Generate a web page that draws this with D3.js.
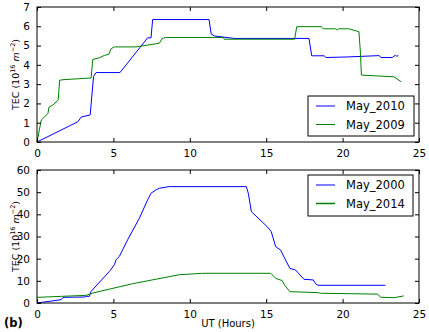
<!DOCTYPE html>
<html>
<head>
<meta charset="utf-8">
<script src="https://cdn.jsdelivr.net/npm/d3@7"></script>
<style>
  body { margin: 0; background: #fff; }
  svg { display: block; font-family: "DejaVu Sans", sans-serif; }
</style>
</head>
<body>
<div id="container"></div>
<script>
/* CONSTANTS AND GLOBALS */
const width = 429, height = 332;

/* DATA */
// panel (a)
const may2010X = [0, 2.67, 2.9, 3.48, 3.7, 3.87, 5.43, 7.24, 7.46, 7.57, 11.26, 11.4, 11.6, 12.9, 17.8, 17.98, 18.8, 18.9, 20.3, 22.4, 22.5, 23.25, 23.45, 23.55, 23.65];
const may2010Y = [0, 1.05, 1.3, 1.4, 3.4, 3.6, 3.6, 5.4, 5.4, 6.35, 6.35, 5.6, 5.5, 5.37, 5.37, 4.47, 4.47, 4.38, 4.41, 4.48, 4.38, 4.38, 4.5, 4.44, 4.5];
const may2009X = [0, 0.28, 0.5, 0.72, 0.78, 1.04, 1.3, 1.39, 1.48, 1.7, 3.54, 3.65, 4.09, 4.41, 4.7, 4.85, 5.07, 6.48, 8.0, 8.2, 8.43, 11.6, 12.2, 12.25, 16.86, 17.0, 18.6, 18.75, 19.55, 19.65, 19.75, 20.4, 21.07, 21.17, 21.23, 23.36, 23.84];
const may2009Y = [0, 1.14, 1.3, 1.49, 1.8, 1.92, 2.1, 2.19, 3.2, 3.23, 3.32, 4.28, 4.37, 4.49, 4.55, 4.84, 4.93, 4.93, 5.12, 5.37, 5.42, 5.42, 5.42, 5.33, 5.33, 5.98, 5.98, 5.87, 5.87, 5.81, 5.87, 5.87, 5.72, 4.6, 3.47, 3.38, 3.12];
// panel (b)
const may2000X = [0, 1.59, 1.7, 3.1, 3.22, 3.43, 3.54, 4.74, 5.07, 5.17, 5.39, 5.93, 6.7, 7.24, 7.46, 7.78, 8.0, 8.65, 13.7, 13.83, 14.03, 14.2, 15.07, 15.33, 15.62, 15.94, 16.27, 16.55, 16.92, 17.47, 18.08, 18.24, 18.39, 22.8];
const may2000Y = [0, 1.5, 2.55, 2.7, 3.0, 3.0, 5.25, 14.25, 17.25, 19.5, 21, 28.5, 38.25, 46.5, 49.5, 51, 51.75, 52.5, 52.5, 49.5, 41.2, 40.1, 34.4, 32.2, 25.4, 23.9, 19.4, 15.6, 14.9, 10.7, 10.4, 8.6, 8.0, 8.0];
const may2014X = [0, 1.59, 3.22, 3.65, 6.26, 9.3, 10.83, 15.3, 15.62, 16.05, 16.2, 16.55, 18.34, 18.57, 22.27, 22.5, 23.37, 24.0];
const may2014Y = [2.55, 3.0, 3.45, 4.5, 8.7, 12.75, 13.4, 13.4, 11.1, 10.1, 8.1, 5.1, 4.7, 4.4, 4.0, 2.6, 2.4, 3.2];

const xTicks = [0, 5, 10, 15, 20, 25];
const yTicksA = [0, 1, 2, 3, 4, 5, 6, 7];
const yTicksB = [0, 10, 20, 30, 40, 50, 60];

const panels = [
  { top: 7, bottom: 142, yMax: 7, yTicks: yTicksA,
    series: [
      { name: "May_2010", x: may2010X, y: may2010Y, color: "#0000ff" },
      { name: "May_2009", x: may2009X, y: may2009Y, color: "#008000" }
    ],
    legend: { x: 308, y: 96, w: 106, h: 40 } },
  { top: 170, bottom: 303, yMax: 60, yTicks: yTicksB,
    series: [
      { name: "May_2000", x: may2000X, y: may2000Y, color: "#0000ff" },
      { name: "May_2014", x: may2014X, y: may2014Y, color: "#008000" }
    ],
    legend: { x: 308, y: 175, w: 105, h: 41 } }
];

const left = 37, right = 419;

const svg = d3.select("#container")
  .append("svg")
  .attr("width", width)
  .attr("height", height);

panels.forEach((p, i) => {
  const xScale = d3.scaleLinear().domain([0, 25]).range([left, right]);
  const yScale = d3.scaleLinear().domain([0, p.yMax]).range([p.bottom, p.top]);

  const g = svg.append("g");

  // lines
  const line = d3.line().x(d => xScale(d[0])).y(d => yScale(d[1]));
  p.series.forEach(s => {
    g.append("path")
      .datum(d3.zip(s.x, s.y))
      .attr("fill", "none")
      .attr("stroke", s.color)
      .attr("stroke-width", 1)
      .attr("d", line);
  });

  // axes, ticks pointing inward on all four sides
  const fmt = d3.format("d");
  g.append("g")
    .attr("transform", `translate(0,${p.bottom})`)
    .call(d3.axisBottom(xScale).tickValues(xTicks).tickFormat(fmt).tickSizeInner(-4).tickSizeOuter(0).tickPadding(8));
  g.append("g")
    .attr("transform", `translate(0,${p.top})`)
    .call(d3.axisTop(xScale).tickValues(xTicks).tickFormat("").tickSizeInner(-4).tickSizeOuter(0));
  g.append("g")
    .attr("transform", `translate(${left},0)`)
    .call(d3.axisLeft(yScale).tickValues(p.yTicks).tickFormat(fmt).tickSizeInner(-4).tickSizeOuter(0).tickPadding(7));
  g.append("g")
    .attr("transform", `translate(${right},0)`)
    .call(d3.axisRight(yScale).tickValues(p.yTicks).tickFormat("").tickSizeInner(-4).tickSizeOuter(0));

  g.selectAll(".tick text").attr("font-size", 10.5).attr("fill", "#000").attr("font-family", "DejaVu Sans, sans-serif");
  g.selectAll(".domain").remove();

  g.append("rect")
    .attr("x", left).attr("y", p.top)
    .attr("width", right - left).attr("height", p.bottom - p.top)
    .attr("fill", "none").attr("stroke", "#000").attr("stroke-width", 1);

  // y label
  const cy = (p.top + p.bottom) / 2;
  const yl = g.append("text")
    .attr("transform", `translate(19,${cy}) rotate(-90)`)
    .attr("text-anchor", "middle")
    .attr("font-size", 9.5);
  yl.append("tspan").text("TEC (10");
  yl.append("tspan").attr("font-size", 6.5).attr("dy", -4).text("16");
  yl.append("tspan").attr("dy", 4).attr("font-style", "italic").text(" m");
  yl.append("tspan").attr("font-size", 6.5).attr("dy", -4).text("−2");
  yl.append("tspan").attr("dy", 4).text(")");

  // legend
  const L = p.legend;
  const lg = g.append("g");
  lg.append("rect")
    .attr("x", L.x).attr("y", L.y).attr("width", L.w).attr("height", L.h)
    .attr("fill", "#fff").attr("stroke", "#000").attr("stroke-width", 1);
  p.series.forEach((s, k) => {
    const ly = L.y + 10 + k * 18.5;
    lg.append("line")
      .attr("x1", L.x + 8).attr("x2", L.x + 27)
      .attr("y1", ly).attr("y2", ly)
      .attr("stroke", s.color).attr("stroke-width", i === 1 && k === 1 ? 1.5 : 1);
    lg.append("text")
      .attr("x", L.x + 38).attr("y", ly + 4)
      .attr("font-size", 11.5)
      .text(s.name);
  });
});

svg.append("text")
  .attr("x", 228).attr("y", 327)
  .attr("text-anchor", "middle")
  .attr("font-size", 10)
  .text("UT (Hours)");

svg.append("text")
  .attr("x", 4).attr("y", 327)
  .attr("font-size", 11.5)
  .attr("font-weight", "bold")
  .text("(b)");
</script>
</body>
</html>
